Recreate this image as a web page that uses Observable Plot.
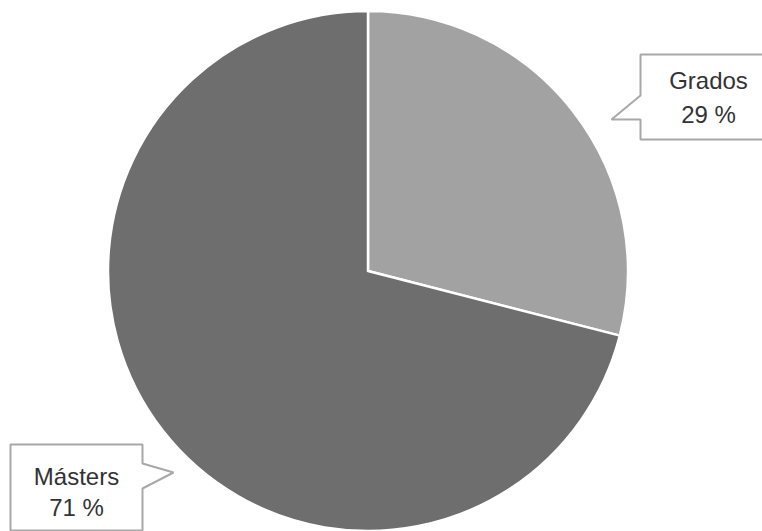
<!DOCTYPE html>
<html>
<head>
<meta charset="utf-8">
<script src="https://cdn.jsdelivr.net/npm/d3@7"></script>
<script src="https://cdn.jsdelivr.net/npm/@observablehq/plot@0.6"></script>
<style>
  html, body { margin: 0; padding: 0; background: #fff; }
  svg { display: block; }
</style>
</head>
<body>
<div id="chart"></div>
<script>
// ---- data ----
const categories = ["Grados", "Másters"];
const values = [29, 71];
const labels = ["29 %", "71 %"];
const colors = ["#a2a2a2", "#6e6e6e"];

// ---- layout (pixel space) ----
const W = 762, H = 531;
const center = {x: 368, y: 271};
const radius = 260;

const callouts = [
  {name: "Grados", box: [640, 54, 790, 139], ptr: {side: "left", y0: 95, y1: 119, tipX: 611, tipY: 119}, tx: 708, ty: [88, 122]},
  {name: "Másters", box: [10, 444, 142, 530], ptr: {side: "right", y0: 463, y1: 488, tipX: 173, tipY: 472}, tx: 76, ty: [484, 515]}
];

const data = categories.map((c, i) => ({category: c, value: values[i], label: labels[i], color: colors[i]}));
const arcs = d3.pie().sort(null).value(d => d.value)(data);

function calloutPoly(c) {
  const [x0, y0, x1, y1] = c.box;
  const p = c.ptr;
  if (p.side === "left") {
    return [[x0, y0], [x1, y0], [x1, y1], [x0, y1], [x0, p.y1], [p.tipX, p.tipY], [x0, p.y0]];
  }
  return [[x0, y0], [x1, y0], [x1, p.y0], [p.tipX, p.tipY], [x1, p.y1], [x1, y1], [x0, y1]];
}

const polyRows = callouts.flatMap(c => calloutPoly(c).map(([x, y]) => ({name: c.name, x, y})));
const textRows = callouts.flatMap(c => {
  const d = data.find(d => d.category === c.name);
  return [
    {x: c.tx, y: c.ty[0], text: d.category},
    {x: c.tx, y: c.ty[1], text: d.label}
  ];
});

function pieMark(index, scales) {
  const g = d3.create("svg:g");
  const cx = scales.x(center.x), cy = scales.y(center.y);
  const r = scales.x(center.x + radius) - cx;
  const arcGen = d3.arc().innerRadius(0).outerRadius(r);
  g.selectAll("path")
    .data(arcs)
    .join("path")
    .attr("transform", `translate(${cx},${cy})`)
    .attr("d", arcGen)
    .attr("fill", d => d.data.color)
    .attr("stroke", "#ffffff")
    .attr("stroke-width", 2.5)
    .attr("stroke-linejoin", "round");
  return g.node();
}

const chart = Plot.plot({
  width: W,
  height: H,
  margin: 0,
  x: {domain: [0, W], range: [0, W], axis: null},
  y: {domain: [0, H], range: [0, H], axis: null},
  style: {background: "#fff", overflow: "hidden"},
  marks: [
    pieMark,
    Plot.line(polyRows, {x: "x", y: "y", z: "name", fill: "#ffffff", stroke: "#a8a8a8", strokeWidth: 2, curve: "linear-closed", strokeLinejoin: "miter"}),
    Plot.text(textRows, {x: "x", y: "y", text: "text", fill: "#333333", fontSize: 24, fontFamily: "Liberation Sans, Arial, sans-serif", lineAnchor: "bottom", textAnchor: "middle"})
  ]
});

document.getElementById("chart").appendChild(chart);
</script>
</body>
</html>
